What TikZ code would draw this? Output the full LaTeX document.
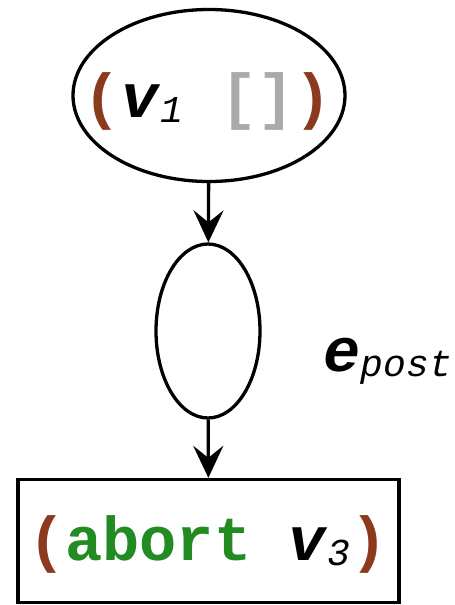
\documentclass[tikz,border=0pt]{standalone}
\usepackage{fontspec}
\setmonofont{Liberation Mono}
\usetikzlibrary{arrows.meta,shapes.geometric}
\definecolor{paren}{HTML}{8B3A1E}
\definecolor{kw}{HTML}{228B22}
\definecolor{brk}{HTML}{AAAAAA}
\newcommand{\bigtt}{\fontsize{62}{62}\selectfont\ttfamily\bfseries}
\newcommand{\subtt}[1]{\raisebox{-5pt}{\fontsize{38}{38}\selectfont\ttfamily\mdseries\itshape #1}}
\begin{document}
\begin{tikzpicture}[x=1pt,y=-1pt,line width=3.3pt,
  shapeline/.style={draw,inner sep=0pt},
  arr/.style={-{Stealth[length=32pt,width=30pt,inset=12pt]}},
  lbl/.style={anchor=base,inner sep=0pt,font=\bigtt}]
\useasboundingbox (0,0) rectangle (455,605);
\node[shapeline,ellipse,minimum width=272pt,minimum height=172pt] (top) at (209,95.5) {};
\node[shapeline,ellipse,minimum width=104pt,minimum height=174pt] (mid) at (208,331) {};
\node[shapeline,rectangle,minimum width=381pt,minimum height=123pt] (box) at (208.5,541) {};
\node[lbl] (toptext) at (208,117) {\textcolor{paren}{(}\textit{v}\subtt{1}\ \textcolor{brk}{[]}\textcolor{paren}{)}};
\node[lbl] (boxtext) at (208,560) {\textcolor{paren}{(}\textcolor{kw}{abort}\ \textit{v}\subtt{3}\textcolor{paren}{)}};
\node[lbl,anchor=base west] (epost) at (322,371) {\textit{e}\subtt{post}};
\draw[arr] (top) -- (mid);
\draw[arr] (mid) -- (box);
\end{tikzpicture}
\end{document}
